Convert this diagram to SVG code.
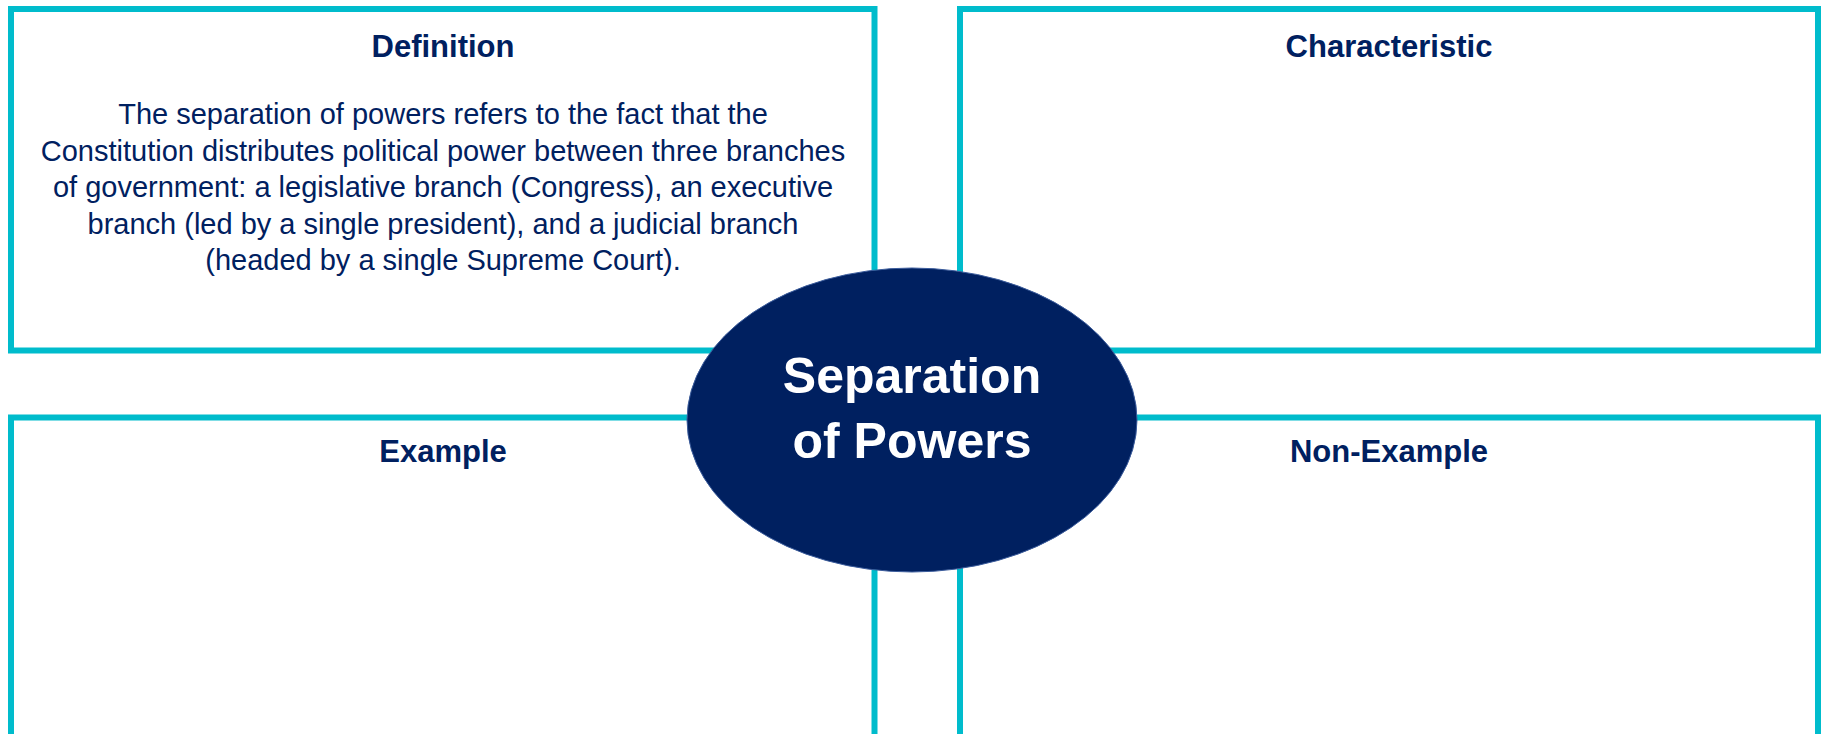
<svg xmlns="http://www.w3.org/2000/svg" width="1826" height="734" viewBox="0 0 1826 734">
  <style>
    .box { fill: #ffffff; stroke: #00BCCC; stroke-width: 6; }
    .title { font-family: "Liberation Sans", Arial, sans-serif; font-weight: bold; font-size: 31px; fill: #002060; text-anchor: middle; }
    .body { font-family: "Liberation Sans", Arial, sans-serif; font-size: 29px; fill: #002060; text-anchor: middle; }
    .center { font-family: "Liberation Sans", Arial, sans-serif; font-weight: bold; font-size: 50px; fill: #ffffff; text-anchor: middle; }
  </style>
  <rect x="0" y="0" width="1826" height="734" fill="#ffffff"/>
  <g id="connectors"/>
  <g id="definition">
    <rect class="box" x="11" y="9" width="863.5" height="341.5"/>
    <text class="title" x="443" y="57">Definition</text>
    <text class="body" x="443" y="124">The separation of powers refers to the fact that the</text>
    <text class="body" x="443" y="160.5">Constitution distributes political power between three branches</text>
    <text class="body" x="443" y="197">of government: a legislative branch (Congress), an executive</text>
    <text class="body" x="443" y="233.5">branch (led by a single president), and a judicial branch</text>
    <text class="body" x="443" y="270">(headed by a single Supreme Court).</text>
  </g>
  <g id="characteristic">
    <rect class="box" x="960" y="9" width="858" height="341.5"/>
    <text class="title" x="1389" y="57">Characteristic</text>
  </g>
  <g id="example">
    <rect class="box" x="11" y="417.5" width="863.5" height="400"/>
    <text class="title" x="443" y="462">Example</text>
  </g>
  <g id="non-example">
    <rect class="box" x="960" y="417.5" width="858" height="400"/>
    <text class="title" x="1389" y="462">Non-Example</text>
  </g>
  <g id="center">
    <ellipse cx="912" cy="420" rx="225" ry="152" fill="#002060" stroke="#3B5C9C" stroke-width="1"/>
    <text class="center" x="912" y="393">Separation</text>
    <text class="center" x="912" y="458">of Powers</text>
  </g>
</svg>
